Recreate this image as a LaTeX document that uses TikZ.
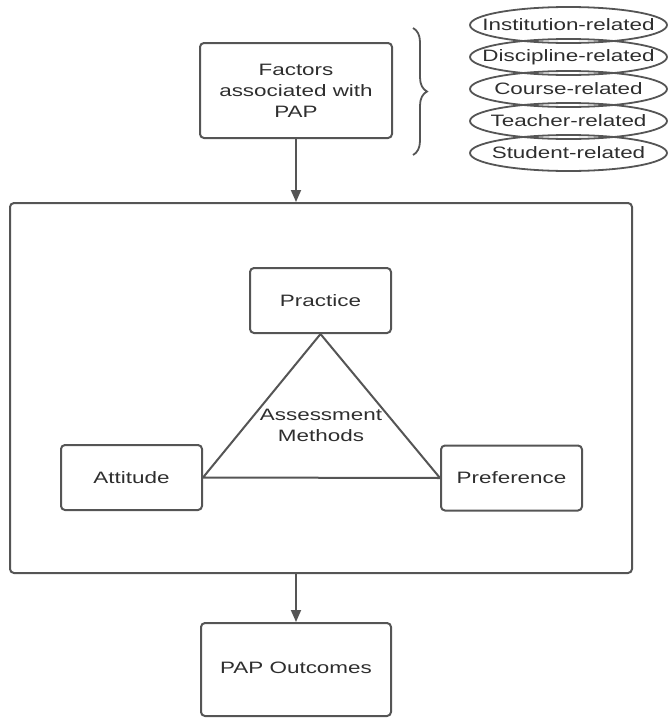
\documentclass[tikz,border=0pt]{standalone}
\usepackage{fontspec}
\setmainfont[FakeStretch=1.36]{Liberation Sans}
\usetikzlibrary{arrows.meta,decorations.pathreplacing,shapes.geometric}
\definecolor{linec}{HTML}{555555}
\definecolor{textc}{HTML}{2E2E2E}
\tikzset{
  txt/.style={text=textc, font=\fontsize{16.5pt}{21pt}\selectfont},
  box/.style={draw=linec, line width=2pt, rounded corners=4pt, rectangle,
    inner sep=0pt, align=center, txt},
  oval/.style={draw=linec, line width=1.8pt, ellipse, inner xsep=-45pt, inner ysep=-12pt,
    minimum width=197pt, minimum height=36pt, txt},
  conn/.style={draw=linec, line width=1.8pt, -{Triangle[length=12pt,width=10pt]}},
  tri/.style={draw=linec, line width=2pt, line join=round},
  lbl/.style={align=center, inner sep=0pt, txt}
}
\begin{document}
\begin{tikzpicture}[x=1pt,y=-1pt]
\useasboundingbox (0,0) rectangle (668,718);
% main boxes
\node[box, minimum width=192pt, minimum height=95pt] (factors) at (296,90.5) {Factors\\associated with\\PAP};
\node[box, minimum width=622pt, minimum height=370pt] (frame) at (321,388) {};
\node[box, minimum width=141pt, minimum height=65pt] (practice) at (320.5,300.5) {Practice};
\node[box, minimum width=141pt, minimum height=65pt] (attitude) at (131.5,477.5) {Attitude};
\node[box, minimum width=141pt, minimum height=65pt] (preference) at (511.5,478) {Preference};
\node[box, minimum width=190pt, minimum height=93pt] (outcomes) at (296,669.5) {};
\node[lbl] (outtext) at (296,668) {PAP Outcomes};
% ovals
\node[oval] (inst) at (568.5,25) {Institution-related};
\node[oval] (disc) at (568.5,57) {Discipline-related};
\node[oval] (course) at (568.5,89) {Course-related};
\node[oval] (teach) at (568.5,121) {Teacher-related};
\node[oval] (stud) at (568.5,153) {Student-related};
% brace
\coordinate (bt) at (413,28);
\coordinate (bb) at (413,155);
\draw[draw=linec, line width=1.8pt, decorate, decoration={brace, amplitude=14pt}] (bt) -- (bb);
% triangle
\draw[tri] (practice.south) -- (attitude.east) -- (preference.west) -- cycle;
\node[lbl] (assess) at (321,425) {Assessment\\Methods};
% arrows
\draw[conn] (factors.south) -- (factors.south |- frame.north);
\draw[conn] (frame.south -| outcomes.north) -- (outcomes.north);
\end{tikzpicture}
\end{document}
